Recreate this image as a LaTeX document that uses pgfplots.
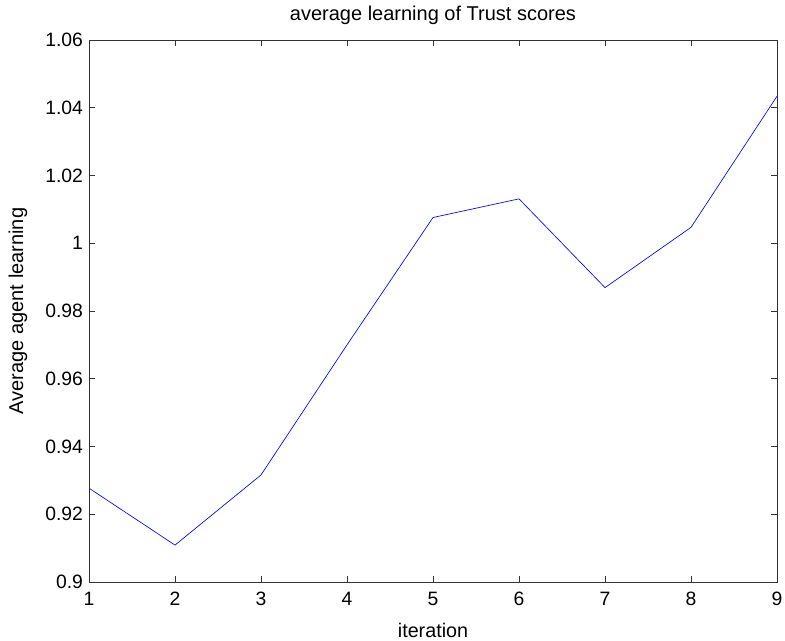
\documentclass[border=0pt]{standalone}
\usepackage{pgfplots}
\pgfplotsset{compat=1.18}
\usepackage{fontspec}
\setmainfont{Liberation Sans}
\begin{document}
\begin{tikzpicture}
\begin{axis}[
  scale only axis,
  width=516pt, height=406.5pt,
  xmin=1, xmax=9, ymin=0.9, ymax=1.06,
  xtick={1,...,9},
  ytick={0.9,0.92,0.94,0.96,0.98,1,1.02,1.04,1.06},
  yticklabels={0.9,0.92,0.94,0.96,0.98,1,1.02,1.04,1.06},
  tick align=inside,
  major tick length=4.5pt,
  axis line style={black!80, line width=0.6pt},
  every tick/.style={black!80, line width=0.6pt},
  tick label style={font=\fontsize{14.5}{16}\selectfont},
  /pgf/number format/assume math mode=true,
  title={average learning of Trust scores},
  every axis title/.style={font=\fontsize{15}{16}\selectfont, at={(axis description cs:0.5,1.046)}, anchor=center},
  xlabel={iteration},
  every axis x label/.style={font=\fontsize{14.8}{16}\selectfont, at={(axis description cs:0.5,-0.0886)}, anchor=center},
  ylabel={Average agent learning},
  every axis y label/.style={font=\fontsize{15}{16}\selectfont, at={(axis description cs:-0.1032,0.5)}, anchor=center, rotate=90},
  xticklabel style={yshift=-4pt},
  yticklabel style={xshift=-1pt},
]
\addplot[blue, line width=0.5pt, mark=none] coordinates {
  (1,0.9277) (2,0.9109) (3,0.9316) (4,0.9700) (5,1.0076)
  (6,1.0131) (7,0.9869) (8,1.0047) (9,1.0434)
};
\coordinate (sw) at (rel axis cs:0,0);
\coordinate (ne) at (rel axis cs:1,1);
\end{axis}
\pgfresetboundingbox
\path ([shift={(-66.75pt,-43.5pt)}]sw) rectangle ([shift={(6pt,30pt)}]ne);
\end{tikzpicture}
\end{document}
